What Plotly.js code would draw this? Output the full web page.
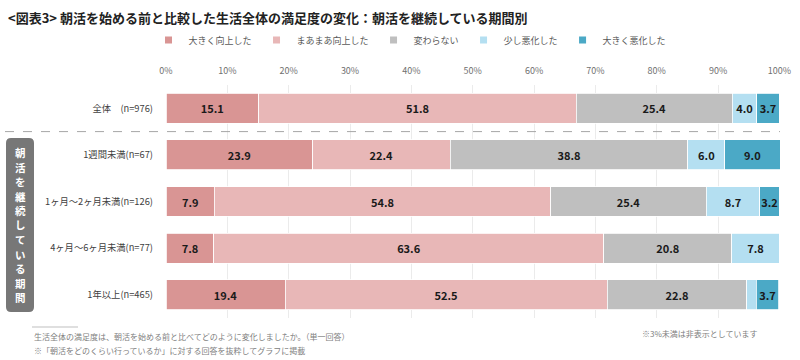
<!DOCTYPE html>
<html><head><meta charset="utf-8">
<script src="https://cdn.plot.ly/plotly-3.0.1.min.js"></script>
<style>body{margin:0;background:#fff}#chart{width:800px;height:360px}</style>
</head><body><div id="chart"></div>
<script>
const categories = ['全体　(n=976)', '1週間未満(n=67)', '1ヶ月～2ヶ月未満(n=126)', '4ヶ月～6ヶ月未満(n=77)', '1年以上(n=465)'];
const seriesNames = ['大きく向上した', 'まあまあ向上した', '変わらない', '少し悪化した', '大きく悪化した'];
const greatlyImproved = [15.1, 23.9, 7.9, 7.8, 19.4];
const somewhatImproved = [51.8, 22.4, 54.8, 63.6, 52.5];
const unchanged = [25.4, 38.8, 25.4, 20.8, 22.8];
const slightlyWorse = [4.0, 6.0, 8.7, 7.8, 1.5];
const greatlyWorse = [3.7, 9.0, 3.2, 0.0, 3.7];
const xTicks = [0, 10, 20, 30, 40, 50, 60, 70, 80, 90, 100];
const groupLabel = '朝活を継続している期間';
const colors = ['#d99594', '#e8b7b7', '#bfbfbf', '#b4dff1', '#4ba9c6'];

const F = '"Noto Sans CJK JP", "Noto Sans", sans-serif';
const series = [greatlyImproved, somewhatImproved, unchanged, slightlyWorse, greatlyWorse];
const traces = [];
series.forEach((vals, i) => {
  traces.push({
    type: 'bar', orientation: 'h', name: seriesNames[i],
    y: categories, x: vals, width: 0.64,
    marker: {color: colors[i], line: {color: '#ffffff', width: 0.8}},
    text: vals.map(v => v >= 3 ? v.toFixed(1) : ''),
    textposition: 'inside', insidetextanchor: 'middle', constraintext: 'none', textangle: 0,
    textfont: {family: F, size: 11, color: '#1a1a1a', weight: 'bold'},
    hoverinfo: 'x+name', showlegend: false, cliponaxis: false
  });
});
seriesNames.forEach((n, i) => {
  traces.push({type: 'scatter', mode: 'markers', name: n, x: [null], y: [categories[0]],
    marker: {symbol: 'square', size: 7, color: colors[i]}, showlegend: true, hoverinfo: 'skip'});
});

const L = 166, R = 20, T = 85, B = 42;
const pw = 800 - L - R, ph = 360 - T - B;
const px = x => (x - L) / pw;
const py = y => (360 - B - y) / ph;

const annotations = [
  {xref: 'paper', yref: 'paper', x: px(32), y: py(336), xanchor: 'left', yanchor: 'middle', showarrow: false,
    text: '生活全体の満足度は、朝活を始める前と比べてどのように変化しましたか。（単一回答）',
    font: {size: 8, color: '#808080'}},
  {xref: 'paper', yref: 'paper', x: px(32), y: py(350), xanchor: 'left', yanchor: 'middle', showarrow: false,
    text: '※「朝活をどのくらい行っているか」に対する回答を抜粋してグラフに掲載',
    font: {size: 8, color: '#808080'}},
  {xref: 'paper', yref: 'paper', x: px(760), y: py(333), xanchor: 'right', yanchor: 'middle', showarrow: false,
    text: '※3%未満は非表示としています',
    font: {size: 8, color: '#808080'}}
];
Array.from(groupLabel).forEach((ch, k) => {
  annotations.push({xref: 'paper', yref: 'paper', x: px(20), y: py(152.5 + k * 14.5), xanchor: 'center', yanchor: 'middle',
    showarrow: false, borderpad: 0, text: ch, font: {family: F, size: 10.5, color: '#ffffff', weight: 'bold'}});
});

const layout = {
  width: 800, height: 360,
  margin: {l: L, r: R, t: T, b: B},
  paper_bgcolor: '#ffffff', plot_bgcolor: '#ffffff',
  barmode: 'stack', bargap: 0.36,
  font: {family: F, color: '#595959', size: 10},
  title: {text: '&lt;図表3&gt; 朝活を始める前と比較した生活全体の満足度の変化：朝活を継続している期間別',
    x: 8 / 800, xanchor: 'left', xref: 'container', y: 1 - 18 / 360, yref: 'container', yanchor: 'middle',
    font: {family: F, size: 13, color: '#222222', weight: 'bold'}},
  xaxis: {side: 'top', range: [0, 100.1], tickvals: xTicks, ticktext: xTicks.map(v => v + '%'),
    showgrid: true, gridcolor: '#ebebeb', gridwidth: 1, zeroline: false, showline: false,
    ticks: '', tickfont: {size: 9, color: '#707070'}, ticklabelstandoff: 8, fixedrange: true},
  yaxis: {type: 'category', range: [4.5, -0.5], ticks: '', showgrid: false, zeroline: false,
    showline: false, tickfont: {size: 9.3, color: '#404040'}, ticklabelstandoff: 12, fixedrange: true},
  legend: {orientation: 'h', traceorder: 'normal', x: px(410), xanchor: 'center', y: py(40), yanchor: 'middle',
    font: {size: 9, color: '#595959'}, itemclick: false, itemdoubleclick: false, itemwidth: 30},
  shapes: [
    {type: 'line', xref: 'paper', yref: 'y', x0: px(5), x1: 1, y0: 0.5, y1: 0.5,
      line: {color: '#a6a6a6', width: 1, dash: 'dash'}},
    {type: 'path', xref: 'paper', yref: 'paper', xsizemode: 'pixel', ysizemode: 'pixel',
      xanchor: px(20), yanchor: py(225),
      path: 'M -9 -87 L 9 -87 Q 14 -87 14 -82 L 14 82 Q 14 87 9 87 L -9 87 Q -14 87 -14 82 L -14 -82 Q -14 -87 -9 -87 Z',
      fillcolor: '#777777', line: {width: 0}},
    {type: 'line', xref: 'paper', yref: 'paper', x0: px(32), x1: px(78), y0: py(327), y1: py(327),
      line: {color: '#bfbfbf', width: 1}}
  ],
  annotations: annotations
};
Plotly.newPlot('chart', traces, layout, {displayModeBar: false});
</script></body></html>
